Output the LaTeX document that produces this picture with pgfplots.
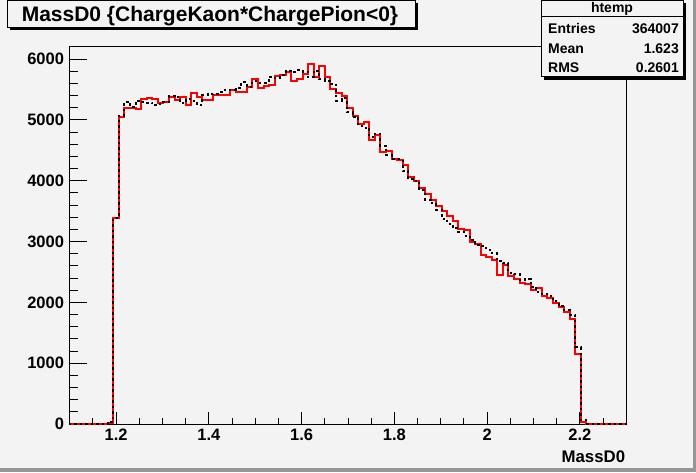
\documentclass[border=0pt]{standalone}
\usepackage{fontspec}
\setmainfont{Liberation Sans}
\usepackage{pgfplots}
\pgfplotsset{compat=1.18}
\usepackage{pgfplotstable}
\definecolor{bg}{RGB}{243,243,243}
\definecolor{bevel}{RGB}{150,150,150}
\definecolor{hred}{RGB}{255,0,0}

\pgfplotstableread{
x r b
1.098 0 0
1.110 0 0
1.122 0 0
1.134 0 0
1.146 0 0
1.158 0 0
1.170 0 0
1.182 10 40
1.194 3380 3390
1.206 5057 5070
1.218 5205 5300
1.230 5205 5220
1.242 5183 5320
1.254 5353 5300
1.266 5364 5287
1.278 5348 5243
1.290 5287 5265
1.302 5303 5298
1.314 5385 5397
1.326 5325 5375
1.338 5385 5276
1.350 5254 5342
1.362 5451 5320
1.374 5385 5254
1.386 5331 5408
1.398 5331 5424
1.410 5408 5435
1.422 5408 5462
1.434 5408 5490
1.446 5500 5500
1.458 5468 5528
1.470 5468 5621
1.482 5550 5544
1.494 5681 5640
1.506 5530 5615
1.518 5566 5615
1.530 5578 5714
1.542 5731 5698
1.554 5742 5742
1.566 5797 5813
1.578 5639 5797
1.590 5681 5824
1.602 5753 5797
1.614 5917 5703
1.626 5714 5813
1.638 5885 5676
1.650 5714 5649
1.662 5517 5594
1.674 5441 5320
1.686 5386 5358
1.698 5205 5123
1.710 5068 5046
1.722 4937 4904
1.734 4962 4875
1.746 4674 4720
1.758 4745 4775
1.770 4468 4576
1.782 4482 4420
1.794 4350 4350
1.806 4334 4350
1.818 4252 4160
1.830 4064 4030
1.842 3989 4000
1.854 3880 3853
1.866 3782 3689
1.878 3677 3634
1.890 3578 3525
1.902 3496 3377
1.914 3414 3295
1.926 3332 3223
1.938 3207 3160
1.950 3184 3100
1.962 2987 3030
1.974 2965 2950
1.986 2785 2925
1.998 2747 2867
2.010 2691 2805
2.022 2456 2678
2.034 2609 2640
2.046 2428 2484
2.058 2390 2465
2.070 2320 2365
2.082 2303 2390
2.094 2198 2260
2.106 2231 2170
2.118 2111 2135
2.130 2073 2110
2.142 1991 2015
2.154 1919 1935
2.166 1837 1875
2.178 1733 1800
2.190 1158 1262
2.202 30 74
2.214 0 0
2.226 0 0
2.238 0 0
2.250 0 0
2.262 0 0
2.274 0 0
2.286 0 0
2.298 0 0
}\hist

\begin{document}
\begin{tikzpicture}[x=1pt,y=1pt]
\fill[bg] (0,0) rectangle (696,472);
\fill[bevel] (692.5,0) rectangle (696,472);
\fill[bevel] (0,0) rectangle (696,4);
% y-axis (background, frame, y ticks)
\begin{axis}[
  at={(69.7pt,48pt)}, anchor=south west, scale only axis,
  width=556.6pt, height=377pt,
  xmin=1.1, xmax=2.3, ymin=0, ymax=6200,
  axis background/.style={fill=bg},
  xtick=\empty,
  ytick={0,1000,2000,3000,4000,5000,6000},
  yticklabels={0,1000,2000,3000,4000,5000,6000},
  minor ytick={200,400,600,800,1200,1400,1600,1800,2200,2400,2600,2800,3200,3400,3600,3800,4200,4400,4600,4800,5200,5400,5600,5800},
  ytick pos=left,
  major tick length=17.5pt, minor tick length=8.5pt,
  tick style={black, line width=1pt},
  axis line style={black, line width=1pt},
  tick label style={font=\fontsize{16.5}{16.5}\selectfont\bfseries, inner sep=0pt},
  yticklabel style={xshift=-5.5pt},
]
\end{axis}
% x-axis with data
\begin{axis}[
  at={(69.7pt,48pt)}, anchor=south west, scale only axis,
  width=556.6pt, height=377pt,
  xmin=1.1, xmax=2.3, ymin=0, ymax=6200,
  ytick=\empty,
  xtick={1.2,1.4,1.6,1.8,2,2.2},
  xticklabels={1.2,1.4,1.6,1.8,2,2.2},
  minor xtick={1.15,1.25,1.3,1.35,1.45,1.5,1.55,1.65,1.7,1.75,1.85,1.9,1.95,2.05,2.1,2.15,2.25},
  xtick pos=bottom,
  major tick length=12pt, minor tick length=6pt,
  tick style={black, line width=1pt},
  axis line style={black, line width=1pt},
  tick label style={font=\fontsize{16.5}{16.5}\selectfont\bfseries, inner sep=0pt},
  xticklabel style={yshift=-5pt},
  xlabel={MassD0},
  xlabel style={at={(axis description cs:1,0)}, anchor=base east, yshift=-38.7pt, xshift=-1pt, inner sep=0pt, font=\fontsize{16.8}{16.8}\selectfont\bfseries},
]
\addplot[const plot mark left, hred, line width=2pt] table[x=x,y=r]{\hist};
\addplot[const plot mark left, black, line width=2pt, dash pattern=on 2.5pt off 3pt] table[x=x,y=b]{\hist};
\end{axis}
% title box
\fill[black] (9.5,441.5) rectangle (417.5,468.5);
\filldraw[fill=bg, draw=black, line width=1pt] (7,444) rectangle (415,471);
\node[anchor=base, inner sep=0pt, font=\fontsize{21}{21}\selectfont\bfseries] at (210,450) {MassD0 \{ChargeKaon*ChargePion<0\}};
% stats box
\fill[black] (544,392) rectangle (686,468.5);
\filldraw[fill=bg, draw=black, line width=1pt] (541,395) rectangle (683,471.5);
\draw[black, line width=1pt] (541,455) -- (683,455);
\begin{scope}[every node/.style={inner sep=0pt, font=\fontsize{14}{14}\selectfont\bfseries}]
\node[anchor=base] at (612,459) {htemp};
\node[anchor=base west] at (548,438.5) {Entries};
\node[anchor=base east] at (679,438.5) {364007};
\node[anchor=base west] at (548,418.5) {Mean};
\node[anchor=base east] at (679,418.5) {1.623};
\node[anchor=base west] at (548,399) {RMS};
\node[anchor=base east] at (679,399) {0.2601};
\end{scope}
\pgfresetboundingbox
\useasboundingbox (0,0) rectangle (696,472);
\end{tikzpicture}
\end{document}
